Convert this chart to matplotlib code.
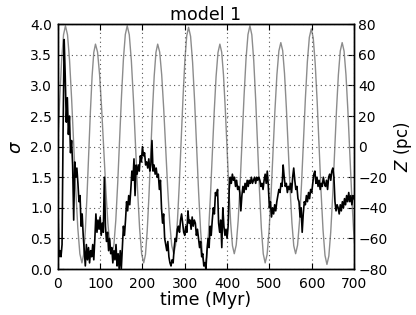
import numpy as np
import matplotlib
matplotlib.use("Agg")
import matplotlib.pyplot as plt

# ---- data -------------------------------------------------------------
# sigma sampled every 2.5 Myr from 0 to 700 Myr
sigma = [
    1.2, 0.2, 0.3, 0.2, 0.4, 2.3, 3.75, 3.15, 2.4, 2.8,
    2.2, 2.5, 1.9, 2.1, 1.7, 0.8, 1.75, 1.5, 1.65, 1.4,
    1.1, 1.2, 0.7, 0.9, 0.55, 0.3, 0.05, 0.4, 0.15, 0.35,
    0.1, 0.3, 0.2, 0.4, 0.15, 0.5, 0.9, 0.6, 0.8, 0.65,
    0.85, 0.55, 0.75, 0.6, 1.5, 0.7, 0.45, 0.6, 0.3, 0.5,
    0.25, 0.35, 0.1, 0.3, 0.15, 0.4, 0.05, 0.25, 0.0, 0.3,
    0.0, 0.35, 0.7, 0.55, 0.8, 1.1, 0.95, 1.2, 1.05, 1.3,
    1.6, 1.45, 1.8, 1.2, 1.7, 1.55, 1.7, 1.6, 1.85, 1.75,
    2.0, 1.85, 1.9, 1.7, 1.75, 1.65, 1.8, 1.6, 1.7, 2.1,
    1.6, 1.7, 1.55, 1.65, 1.5, 1.55, 1.3, 1.45, 1.0, 0.75,
    0.9, 0.5, 0.4, 0.3, 0.45, 0.2, 0.1, 0.05, 0.15, 0.1,
    0.35, 0.5, 0.45, 0.65, 0.7, 0.6, 0.8, 0.9, 0.75, 0.6,
    0.55, 0.7, 0.6, 0.95, 0.75, 0.8, 0.65, 0.85, 0.7, 0.8,
    0.75, 0.55, 0.65, 0.5, 0.35, 0.45, 0.2, 0.25, 0.05, 0.1,
    0.0, 0.3, 0.5, 0.35, 0.7, 0.55, 0.8, 1.0, 0.9, 1.25,
    1.2, 1.3, 0.75, 0.6, 0.8, 0.35, 1.0, 0.7, 0.55, 0.65,
    0.5, 0.7, 1.3, 1.5, 1.4, 1.55, 1.45, 1.5, 1.35, 1.45,
    1.3, 1.35, 1.25, 0.95, 1.2, 1.35, 1.25, 1.4, 1.3, 1.45,
    1.35, 1.45, 1.4, 1.5, 1.4, 1.45, 1.5, 1.4, 1.5, 1.45,
    1.5, 1.45, 1.35, 1.4, 1.3, 1.45, 1.55, 1.4, 1.6, 1.35,
    1.0, 1.1, 0.85, 1.0, 0.9, 1.05, 0.95, 1.1, 1.2, 1.3,
    1.25, 1.4, 1.35, 1.7, 1.5, 1.35, 1.4, 1.25, 1.35, 1.3,
    1.4, 1.25, 1.5, 1.65, 1.45, 1.3, 1.35, 1.15, 1.1, 0.85,
    1.0, 0.6, 0.9, 1.1, 1.05, 1.2, 1.1, 1.25, 1.15, 1.3,
    1.25, 1.4, 1.55, 1.6, 1.4, 1.5, 1.35, 1.45, 1.3, 1.4,
    1.35, 1.5, 1.4, 1.35, 1.45, 1.3, 1.5, 1.55, 1.45, 1.6,
    1.65, 1.5, 1.1, 0.95, 1.05, 1.0, 0.9, 1.05, 0.95, 1.1,
    1.0, 1.15, 1.05, 1.2, 1.1, 1.25, 1.1, 1.2, 1.05, 1.2,
    1.15,
]

# vertical position Z (pc)
z_time = [
    0, 4.5, 9, 13.5, 18,
    22.9, 27.75, 32.6, 37.5, 42.4, 47.25, 52.1, 57,
    61, 65, 69, 73, 77, 81, 85, 89,
    93.9, 98.75, 103.6, 108.5, 113.4, 118.25, 123.1, 128,
    132.5, 137, 141.5, 146, 150.5, 155, 159.5, 164,
    168.9, 173.75, 178.6, 183.5, 188.4, 193.25, 198.1, 203,
    207.1, 211.25, 215.4, 219.5, 223.6, 227.75, 231.9, 236,
    240.75, 245.5, 250.25, 255, 259.75, 264.5, 269.25, 274,
    278.4, 282.75, 287.1, 291.5, 295.9, 300.25, 304.6, 309,
    313.75, 318.5, 323.25, 328, 332.75, 337.5, 342.25, 347,
    351.5, 356, 360.5, 365, 369.5, 374, 378.5, 383,
    387.25, 391.5, 395.75, 400, 404.25, 408.5, 412.75, 417,
    421.6, 426.25, 430.9, 435.5, 440.1, 444.75, 449.4, 454,
    458.5, 463, 467.5, 472, 476.5, 481, 485.5, 490,
    494.6, 499.25, 503.9, 508.5, 513.1, 517.75, 522.4, 527,
    531.4, 535.75, 540.1, 544.5, 548.9, 553.25, 557.6, 562,
    566.6, 571.25, 575.9, 580.5, 585.1, 589.75, 594.4, 599,
    603.6, 608.25, 612.9, 617.5, 622.1, 626.75, 631.4, 636,
    640.5, 645, 649.5, 654, 658.5, 663, 667.5, 672,
    676.5, 681, 685.5, 690, 694.5, 699, 703.5,
]
z_val = [
    1.5, 31.2, 56.3, 73.1, 79,
    73.1, 56.3, 31.2, 1.5, -28.2, -53.3, -70.1, -76,
    -70.6, -55.1, -31.9, -4.5, 22.9, 46.1, 61.6, 67,
    61.8, 46.9, 24.7, -1.5, -27.7, -49.9, -64.8, -70,
    -64.3, -48.2, -24.0, 4.5, 33.0, 57.2, 73.3, 79,
    73.1, 56.3, 31.2, 1.5, -28.2, -53.3, -70.1, -76,
    -70.6, -55.1, -31.9, -4.5, 22.9, 46.1, 61.6, 67,
    61.8, 46.9, 24.7, -1.5, -27.7, -49.9, -64.8, -70,
    -64.4, -48.3, -24.3, 4, 32.3, 56.3, 72.4, 78,
    72.1, 55.1, 29.9, 0, -29.9, -55.1, -72.1, -78,
    -72.5, -56.8, -33.3, -5.5, 22.3, 45.8, 61.5, 67,
    61.8, 46.9, 24.7, -1.5, -27.7, -49.9, -64.8, -70,
    -64.3, -48.2, -24.0, 4.5, 33.0, 57.2, 73.3, 79,
    73.1, 56.3, 31.2, 1.5, -28.2, -53.3, -70.1, -76,
    -70.5, -54.9, -31.6, -4, 23.6, 46.9, 62.5, 68,
    62.8, 47.8, 25.4, -1, -27.4, -49.8, -64.8, -70,
    -64.4, -48.5, -24.7, 3.5, 31.7, 55.5, 71.4, 77,
    71.1, 54.4, 29.5, 0, -29.5, -54.4, -71.1, -77,
    -71.5, -55.8, -32.3, -4.5, 23.3, 46.8, 62.5, 68,
    62.5, 46.9, 23.6, -4, -31.6, -54.9, -70.5,
]

x_ticks = [0, 100, 200, 300, 400, 500, 600, 700]
sigma_ticks = [0.0, 0.5, 1.0, 1.5, 2.0, 2.5, 3.0, 3.5, 4.0]
z_ticks = [-80, -60, -40, -20, 0, 20, 40, 60, 80]

# ---- plot -------------------------------------------------------------
plt.rcParams['font.family'] = ['DejaVu Sans']
plt.rcParams['mathtext.fontset'] = 'dejavusans'

fig = plt.figure(figsize=(4.16, 3.15), dpi=100, facecolor='white')
ax = fig.add_axes([0.139, 0.146, 0.712, 0.777])
ax2 = ax.twinx()

t_sigma = np.linspace(0, 700, len(sigma))
ax.plot(t_sigma, sigma, color='black', lw=1.2, zorder=3)
ax2.plot(z_time, z_val, color='#8c8c8c', lw=1.0)

ax.set_xlim(0, 700)
ax.set_ylim(0, 4)
ax2.set_ylim(-80, 80)
ax.set_xticks(x_ticks)
ax.set_yticks(sigma_ticks)
ax.set_yticklabels([f"{v:.1f}" for v in sigma_ticks])
ax2.set_yticks(z_ticks)
ax2.set_yticklabels([f"{v}".replace('-', '\u2212') for v in z_ticks])

ax.grid(True, linestyle=(0, (1, 3)), color='#555555', linewidth=0.8)
for a in (ax, ax2):
    a.tick_params(direction='in', length=4, width=0.8, labelsize=10)
    for s in a.spines.values():
        s.set_linewidth(1.0)
ax.tick_params(axis='x', top=True, pad=6)
ax.tick_params(axis='y', pad=4)
ax2.tick_params(axis='y', pad=3)

ax.set_xlabel('time (Myr)', fontsize=12.5, labelpad=0)
ax.set_ylabel(r'$\sigma$', fontsize=13, labelpad=4)
ax2.set_ylabel(r'$Z$ (pc)', fontsize=12, labelpad=3)
ax.set_title('model 1', fontsize=12.5, pad=3)

ax.set_zorder(ax2.get_zorder() + 1)
ax.patch.set_visible(False)

fig.savefig('out.png', dpi=100, facecolor='white')
